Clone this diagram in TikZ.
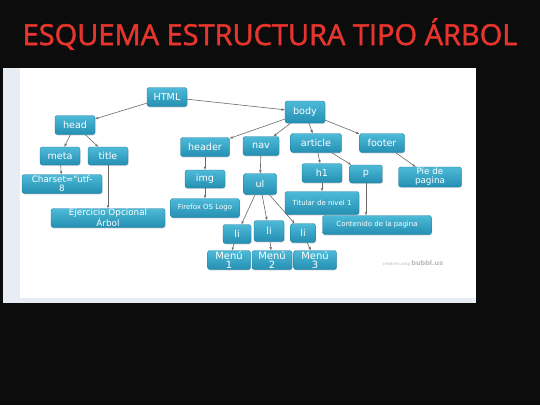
\documentclass[tikz,border=0pt]{standalone}
\usepackage{fontspec}
\usetikzlibrary{arrows.meta, shadows}
\newfontfamily\boxfont{DejaVu Sans}
\newfontfamily\titlefont[FakeBold=1.6]{Open Sans}
\definecolor{bgblack}{RGB}{12,12,12}
\definecolor{titlered}{RGB}{229,53,45}
\definecolor{boxtop}{RGB}{78,186,216}
\definecolor{boxbottom}{RGB}{36,143,178}
\definecolor{boxline}{RGB}{30,125,160}
\definecolor{edgegray}{RGB}{105,105,105}
\definecolor{stripgray}{RGB}{232,237,243}

\begin{document}
\begin{tikzpicture}[
    x=1pt, y=-1pt,
    tag/.style={rectangle, rounded corners=2.5pt, draw=boxline, line width=0.4pt,
        top color=boxtop, bottom color=boxbottom, text=white, inner sep=0pt,
        minimum height=19pt, align=center, font=\boxfont\fontsize{9.6}{9.5}\selectfont,
        drop shadow={opacity=0.25, shadow xshift=0.6pt, shadow yshift=-1pt}},
    note/.style={tag, font=\boxfont\fontsize{7}{7}\selectfont},
    arrow/.style={-{Stealth[length=3.5pt, width=2.6pt]}, draw=edgegray, line width=0.6pt}
]
    % Background and screenshot panel
    \fill[bgblack] (0,0) rectangle (540,405);
    \fill[white] (3,68) rectangle (476,303);
    \fill[stripgray] (3,68) rectangle (20,303);
    \fill[stripgray] (20,298) rectangle (476,303);

    % Title
    \node[text=titlered, font=\titlefont\fontsize{29}{29}\selectfont] (heading) at (270,34) {ESQUEMA ESTRUCTURA TIPO ÁRBOL};

    % Root
    \node[tag, minimum width=40pt] (html) at (167,97) {HTML};

    % Head branch
    \node[tag, minimum width=40pt] (head) at (75,125) {head};
    \node[tag, minimum width=40pt, minimum height=18pt] (meta) at (60,156) {meta};
    \node[tag, minimum width=40pt, minimum height=18pt] (title) at (108,156) {title};
    \node[tag, minimum width=80pt, font=\boxfont\fontsize{8.8}{9}\selectfont] (charset) at (62,184) {Charset="utf-\\8};
    \node[tag, minimum width=114pt, font=\boxfont\fontsize{8.8}{9}\selectfont] (ejercicio) at (108,218) {Ejercicio Opcional\\Árbol};

    % Body branch
    \node[tag, minimum width=40pt, minimum height=22pt] (body) at (305,112) {body};
    \node[tag, minimum width=49pt] (header) at (205,147) {header};
    \node[tag, minimum width=36pt] (nav) at (261,146) {nav};
    \node[tag, minimum width=51pt] (article) at (316,143) {article};
    \node[tag, minimum width=45pt] (footer) at (382,143) {footer};

    % Header children
    \node[tag, minimum width=40pt, minimum height=18pt] (img) at (205,179) {img};
    \node[note, minimum width=69pt] (logo) at (205,208) {Firefox OS Logo};

    % Nav children
    \node[tag, minimum width=33pt, minimum height=21pt] (ul) at (260,184) {ul};
    \node[tag, minimum width=28pt] (lione) at (237,234) {li};
    \node[tag, minimum width=30pt, minimum height=21pt] (litwo) at (269,231) {li};
    \node[tag, minimum width=25pt] (lithree) at (303,233) {li};
    \node[tag, minimum width=43pt, font=\boxfont\fontsize{10}{9.5}\selectfont] (menuone) at (229,260) {Menú\\1};
    \node[tag, minimum width=40pt, font=\boxfont\fontsize{10}{9.5}\selectfont] (menutwo) at (272,260) {Menú\\2};
    \node[tag, minimum width=43pt, font=\boxfont\fontsize{10}{9.5}\selectfont] (menuthree) at (315,260) {Menú\\3};

    % Article children
    \node[tag, minimum width=40pt] (hone) at (322,173) {h1};
    \node[tag, minimum width=33pt, minimum height=18pt] (para) at (366,174) {p};
    \node[note, minimum width=74pt, minimum height=23pt] (titular) at (322,203) {Titular de nivel 1};
    \node[note, minimum width=109pt] (contenido) at (377,225) {Contenido de la pagina};

    % Footer child
    \node[tag, minimum width=63pt, minimum height=20pt, font=\boxfont\fontsize{8.8}{9}\selectfont] (pie) at (430,177) {Pie de\\pagina};

    % Watermark
    \node[text=gray!55, font=\boxfont\fontsize{4}{4}\selectfont] (credit) at (413,263) {created using \fontsize{6.5}{6.5}\selectfont\bfseries bubbl.us};

    % Arrows
    \draw[arrow] (html) -- (head);
    \draw[arrow] (html) -- (body);
    \draw[arrow] (head) -- (meta);
    \draw[arrow] (head) -- (title);
    \draw[arrow] (meta) -- (charset);
    \draw[arrow] (title) -- (ejercicio);
    \draw[arrow] (body) -- (header);
    \draw[arrow] (body) -- (nav);
    \draw[arrow] (body) -- (article);
    \draw[arrow] (body) -- (footer);
    \draw[arrow] (header) -- (img);
    \draw[arrow] (img) -- (logo);
    \draw[arrow] (nav) -- (ul);
    \draw[arrow] (ul) -- (lione);
    \draw[arrow] (ul) -- (litwo);
    \draw[arrow] (ul) -- (lithree);
    \draw[arrow] (lione) -- (menuone);
    \draw[arrow] (litwo) -- (menutwo);
    \draw[arrow] (lithree) -- (menuthree);
    \draw[arrow] (article) -- (hone);
    \draw[arrow] (article) -- (para);
    \draw[arrow] (hone) -- (titular);
    \draw[arrow] (para) -- (para |- contenido.north);
    \draw[arrow] (footer) -- (pie);
\end{tikzpicture}
\end{document}
